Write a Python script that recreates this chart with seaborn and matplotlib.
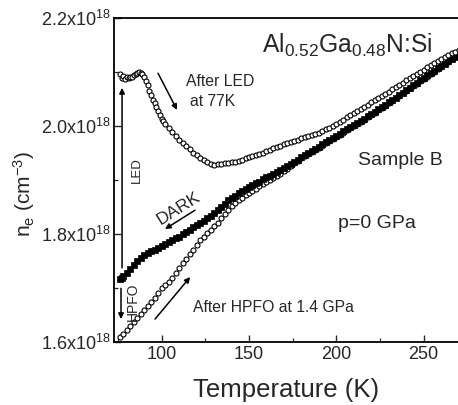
import matplotlib
matplotlib.use("Agg")
import matplotlib.pyplot as plt
from matplotlib.ticker import MultipleLocator, FuncFormatter
import seaborn as sns
import pandas as pd

# ---------------- data (n in units of 1e18 cm^-3) ----------------
led_T = [76, 77, 78, 79, 80, 81, 82, 83, 84, 85, 86, 87, 88, 89, 90, 91, 92, 93, 94, 95,
         96, 97, 98, 99, 100, 101, 102, 104, 106, 108, 110, 112, 114, 116, 118, 120, 122,
         124, 126, 128, 130, 132, 134, 136, 138, 140, 142, 144, 146, 148, 150, 152, 154,
         156, 158, 160, 162, 164, 166, 168, 170, 172, 174, 176, 178, 180, 182, 184, 186,
         188, 190, 192, 194, 196, 198, 200, 202, 204, 206, 208, 210, 212, 214, 216, 218,
         220, 222, 224, 226, 228, 230, 232, 234, 236, 238, 240, 242, 244, 246, 248, 250,
         252, 254, 256, 258, 260, 262, 264, 266, 268, 270]
led_n = [2.096, 2.090, 2.093, 2.088, 2.091, 2.089, 2.092, 2.091, 2.094, 2.097, 2.099, 2.100,
         2.099, 2.096, 2.091, 2.084, 2.076, 2.066, 2.057, 2.049, 2.042, 2.035, 2.028, 2.021,
         2.014, 2.009, 2.004, 1.996, 1.989, 1.982, 1.975, 1.969, 1.963, 1.957, 1.951, 1.946,
         1.941, 1.937, 1.933, 1.930, 1.928, 1.929, 1.929, 1.931, 1.931, 1.933, 1.934, 1.936,
         1.938, 1.940, 1.942, 1.944, 1.946, 1.949, 1.951, 1.954, 1.956, 1.959, 1.961, 1.964,
         1.966, 1.969, 1.971, 1.973, 1.975, 1.977, 1.979, 1.981, 1.983, 1.986, 1.988, 1.991,
         1.994, 1.997, 2.001, 2.004, 2.008, 2.012, 2.016, 2.020, 2.024, 2.028, 2.032, 2.036,
         2.040, 2.044, 2.048, 2.052, 2.056, 2.060, 2.064, 2.068, 2.072, 2.076, 2.080, 2.085,
         2.089, 2.093, 2.097, 2.101, 2.105, 2.109, 2.113, 2.117, 2.121, 2.124, 2.128, 2.131,
         2.135, 2.138, 2.142]

dark_T = [76, 77, 78, 80, 82, 84, 86, 88, 90, 92, 94, 96, 98, 100, 102, 104, 106, 108, 110,
          112, 114, 116, 118, 120, 122, 124, 126, 128, 130, 132, 134, 136, 138, 140, 142,
          144, 146, 148, 150, 152, 154, 156, 158, 160, 162, 164, 166, 168, 170, 172, 174,
          176, 178, 180, 182, 184, 186, 188, 190, 192, 194, 196, 198, 200, 202, 204, 206,
          208, 210, 212, 214, 216, 218, 220, 222, 224, 226, 228, 230, 232, 234, 236, 238,
          240, 242, 244, 246, 248, 250, 252, 254, 256, 258, 260, 262, 264, 266, 268, 270]
dark_n = [1.716, 1.719, 1.722, 1.728, 1.735, 1.742, 1.749, 1.755, 1.760, 1.764, 1.768, 1.771,
          1.774, 1.777, 1.781, 1.785, 1.789, 1.792, 1.795, 1.799, 1.803, 1.808, 1.812, 1.816,
          1.820, 1.824, 1.829, 1.834, 1.839, 1.844, 1.850, 1.856, 1.862, 1.866, 1.870, 1.875,
          1.879, 1.883, 1.887, 1.890, 1.894, 1.897, 1.901, 1.905, 1.908, 1.912, 1.915, 1.919,
          1.922, 1.926, 1.930, 1.934, 1.938, 1.942, 1.946, 1.950, 1.954, 1.958, 1.962, 1.966,
          1.970, 1.974, 1.978, 1.982, 1.986, 1.990, 1.994, 1.998, 2.002, 2.006, 2.010, 2.014,
          2.018, 2.022, 2.027, 2.031, 2.035, 2.040, 2.044, 2.049, 2.053, 2.058, 2.062, 2.067,
          2.071, 2.076, 2.080, 2.085, 2.089, 2.094, 2.098, 2.103, 2.107, 2.112, 2.116, 2.120,
          2.125, 2.129, 2.134]

hpfo_T = [76, 78, 80, 82, 84, 86, 88, 90, 92, 94, 96, 98, 100, 102, 104, 106, 108, 110, 112,
          114, 116, 118, 120, 122, 124, 126, 128, 130, 132, 134, 136, 138, 140, 142, 144,
          146, 148, 150, 152, 154, 156, 158, 160, 162, 164, 166, 168, 170, 172, 174, 176,
          178, 180, 182, 184, 186, 188, 190, 192, 194, 196, 198, 200, 202, 204, 206, 208,
          210, 212, 214, 216, 218, 220, 222, 224, 226, 228, 230, 232, 234, 236, 238, 240,
          242, 244, 246, 248, 250, 252, 254, 256, 258, 260, 262, 264, 266, 268, 270]
hpfo_n = [1.609, 1.615, 1.622, 1.629, 1.636, 1.644, 1.651, 1.659, 1.666, 1.674, 1.682, 1.690,
          1.700, 1.705, 1.710, 1.718, 1.727, 1.737, 1.746, 1.754, 1.762, 1.771, 1.780, 1.788,
          1.795, 1.801, 1.807, 1.814, 1.821, 1.829, 1.837, 1.845, 1.852, 1.857, 1.862, 1.867,
          1.872, 1.876, 1.880, 1.884, 1.888, 1.892, 1.896, 1.900, 1.904, 1.908, 1.912, 1.916,
          1.921, 1.926, 1.931, 1.936, 1.940, 1.944, 1.948, 1.952, 1.956, 1.960, 1.964, 1.968,
          1.972, 1.976, 1.980, 1.984, 1.988, 1.992, 1.996, 2.000, 2.004, 2.008, 2.012, 2.016,
          2.021, 2.025, 2.029, 2.034, 2.038, 2.043, 2.047, 2.052, 2.056, 2.061, 2.065, 2.070,
          2.074, 2.079, 2.083, 2.088, 2.092, 2.097, 2.101, 2.106, 2.110, 2.115, 2.119, 2.124,
          2.128, 2.133]

x_ticks = [100, 150, 200, 250]
y_ticks = [1.6, 1.8, 2.0, 2.2]

# ---------------- style ----------------
sns.set_style("ticks")
plt.rcParams["font.family"] = ["Liberation Sans", "DejaVu Sans"]
plt.rcParams["mathtext.fontset"] = "custom"
plt.rcParams["mathtext.rm"] = "Liberation Sans"
plt.rcParams["mathtext.it"] = "Liberation Sans:italic"
plt.rcParams["mathtext.bf"] = "Liberation Sans:bold"

fig = plt.figure(figsize=(4.58, 4.05), dpi=100)
ax = fig.add_axes([113.5 / 458, (405 - 341.7) / 405, (458 - 113.5) / 458, (341.7 - 18.3) / 405])

hpfo = pd.DataFrame({"T": hpfo_T, "n": hpfo_n})
dark = pd.DataFrame({"T": dark_T, "n": dark_n})
led = pd.DataFrame({"T": led_T, "n": led_n})

sns.scatterplot(data=hpfo, x="T", y="n", ax=ax, marker="o", s=13,
                facecolor="white", edgecolor="black", linewidth=0.8, zorder=3)
sns.scatterplot(data=dark, x="T", y="n", ax=ax, marker="s", s=20,
                color="black", edgecolor="black", linewidth=0.5, zorder=4)
sns.scatterplot(data=led, x="T", y="n", ax=ax, marker="o", s=13,
                facecolor="white", edgecolor="black", linewidth=0.8, zorder=5)

ax.set_xlim(72.4, 269.7)
ax.set_ylim(1.6, 2.2)
ax.set_xticks(x_ticks)
ax.set_yticks(y_ticks)
ax.xaxis.set_minor_locator(MultipleLocator(25))
ax.yaxis.set_minor_locator(MultipleLocator(0.1))
ax.yaxis.set_major_formatter(FuncFormatter(lambda v, p: f"{v:.1f}x10$^{{18}}$"))
ax.tick_params(axis="both", which="major", direction="in", length=5, width=1.0,
               labelsize=13, pad=3)
ax.tick_params(axis="both", which="minor", direction="in", length=3, width=0.9)
ax.tick_params(axis="y", which="major", pad=2)
for s in ["left", "bottom", "top"]:
    ax.spines[s].set_linewidth(1.3)
    ax.spines[s].set_color("black")
ax.spines["right"].set_visible(False)
ax.set_xlabel("")
ax.set_ylabel("")

fig.text(286 / 458, 1 - 397 / 405, "Temperature (K)", ha="center", va="baseline", fontsize=18.5)
fig.text(24 / 458, 1 - 194 / 405, r"n$_{\rm e}$ (cm$^{-3}$)", ha="center", va="center",
         rotation=90, fontsize=15)

# ---------------- annotations ----------------
ax.text(157.4, 2.1356, r"Al$_{0.52}$Ga$_{0.48}$N:Si", ha="left", va="baseline", fontsize=17.7)
ax.text(236.5, 1.937, "Sample B", ha="center", va="center", fontsize=14)
ax.text(223.2, 1.820, "p=0 GPa", ha="center", va="center", fontsize=14)
ax.text(133.4, 2.082, "After LED", ha="center", va="center", fontsize=11.3)
ax.text(129.4, 2.045, "at 77K", ha="center", va="center", fontsize=11.3)
ax.text(118.0, 1.664, "After HPFO at 1.4 GPa", ha="left", va="center", fontsize=11.3)
ax.text(85.9, 1.918, "LED", ha="center", va="center", rotation=90, fontsize=9.5)
ax.text(83.6, 1.675, "HPFO", ha="center", va="center", rotation=90, fontsize=10)
ax.text(109.9, 1.848, "DARK", ha="center", va="center", rotation=32, fontsize=12.5)

arrow = dict(arrowstyle="-|>", lw=1.1, color="black", mutation_scale=8,
             shrinkA=0, shrinkB=0)
ax.annotate("", xy=(77.3, 2.071), xytext=(77.3, 1.737), arrowprops=arrow)
ax.annotate("", xy=(76.7, 1.642), xytext=(76.7, 1.699), arrowprops=arrow)
ax.annotate("", xy=(108.8, 2.030), xytext=(97.9, 2.098), arrowprops=arrow)
ax.annotate("", xy=(101.9, 1.809), xytext=(119.1, 1.844), arrowprops=arrow)
ax.annotate("", xy=(116.3, 1.720), xytext=(96.2, 1.642), arrowprops=arrow)

fig.savefig("out.png", dpi=100)
